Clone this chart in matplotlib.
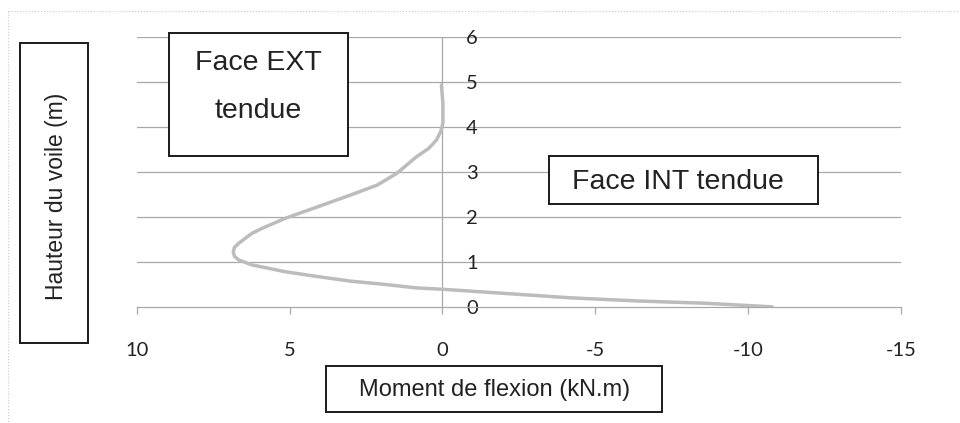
import numpy as np
import matplotlib
matplotlib.use('Agg')
import matplotlib.pyplot as plt
from matplotlib.patches import Rectangle

# bending moment (kN.m) vs wall height (m)
moment = [-10.8, -8.6, -6.4, -4.2, -2.0, 0.0, 0.84, 1.92, 3.0, 4.07, 5.15,
          6.23, 6.66, 6.8, 6.84, 6.8, 6.66, 6.23, 5.9, 5.15, 4.07, 3.0, 2.13,
          1.49, 0.84, 0.45, 0.19, 0.05, -0.02, -0.02, 0.03]
hauteur = [0.01, 0.09, 0.14, 0.21, 0.31, 0.40, 0.43, 0.51, 0.58, 0.68, 0.79,
           0.94, 1.05, 1.13, 1.23, 1.33, 1.42, 1.64, 1.75, 1.97, 2.23, 2.49, 2.71,
           2.97, 3.34, 3.52, 3.71, 3.9, 4.08, 4.52, 4.93]
xticks = [10, 5, 0, -5, -10, -15]
yticks = [0, 1, 2, 3, 4, 5, 6]

plt.rcParams['axes.unicode_minus'] = False
plt.rcParams['font.family'] = ['Lato', 'DejaVu Sans']
W, H = 960, 423
fig = plt.figure(figsize=(W / 100, H / 100), dpi=100)


def fx(px):
    return px / W


def fy(py):
    return 1 - py / H


ax = fig.add_axes([fx(136.7), fy(307.3), (900.7 - 136.7) / W, (307.3 - 36.7) / H])
ax.plot(moment, hauteur, color='#bcbcbc', lw=2.5, solid_capstyle='round',
        solid_joinstyle='round', zorder=3)
ax.set_xlim(10, -15)
ax.set_ylim(0, 6)

grid_col = '#a8a8a8'
ax.set_xticks(xticks)
ax.set_yticks(yticks)
ax.yaxis.tick_right()
ax.set_xticklabels([str(t) for t in xticks])
ax.set_yticklabels([str(t) for t in yticks])
for t in yticks[1:]:
    ax.axhline(t, color=grid_col, lw=0.9, zorder=1)

for side in ['top', 'left']:
    ax.spines[side].set_visible(False)
ax.spines['bottom'].set_color(grid_col)
ax.spines['bottom'].set_linewidth(0.9)
ax.spines['right'].set_position(('data', 0))
ax.spines['right'].set_color(grid_col)
ax.spines['right'].set_linewidth(0.9)
ax.tick_params(axis='y', length=0, pad=17, labelsize=14.5, labelcolor='#222222')
ax.tick_params(axis='x', length=5, width=0.9, color=grid_col, pad=20,
               labelsize=14.5, labelcolor='#222222')

# outer chart border (faint)
fig.add_artist(plt.Line2D([fx(8), fx(958)], [fy(11), fy(11)], color='#c8c8c8',
                          lw=0.8, ls=':'))
fig.add_artist(plt.Line2D([fx(8), fx(8)], [fy(11), fy(423)], color='#c8c8c8',
                          lw=0.8, ls=':'))


def box(x0, y0, x1, y1):
    fig.add_artist(Rectangle((fx(x0), fy(y1)), (x1 - x0) / W, (y1 - y0) / H,
                             transform=fig.transFigure, fill=True, fc='white',
                             ec='#1a1a1a', lw=1.4, zorder=5))


txt = dict(family='Liberation Sans', color='#222222', ha='center', va='center',
           zorder=6)

box(169, 33.3, 348.3, 155.7)
fig.text(fx(258.7), fy(63), 'Face EXT', fontsize=20.5, **txt)
fig.text(fx(258.7), fy(111), 'tendue', fontsize=20.5, **txt)

box(549.3, 155.7, 818.3, 204)
fig.text(fx(678.3), fy(182), 'Face INT tendue', fontsize=20.5, **txt)

box(20, 43.3, 88.3, 342.7)
fig.text(fx(56), fy(196), 'Hauteur du voile (m)', fontsize=16.5, rotation=90, **txt)

box(326, 365.7, 662.3, 411.7)
fig.text(fx(494.7), fy(390), 'Moment de flexion (kN.m)', fontsize=17, **txt)

fig.savefig('out.png', dpi=100)
